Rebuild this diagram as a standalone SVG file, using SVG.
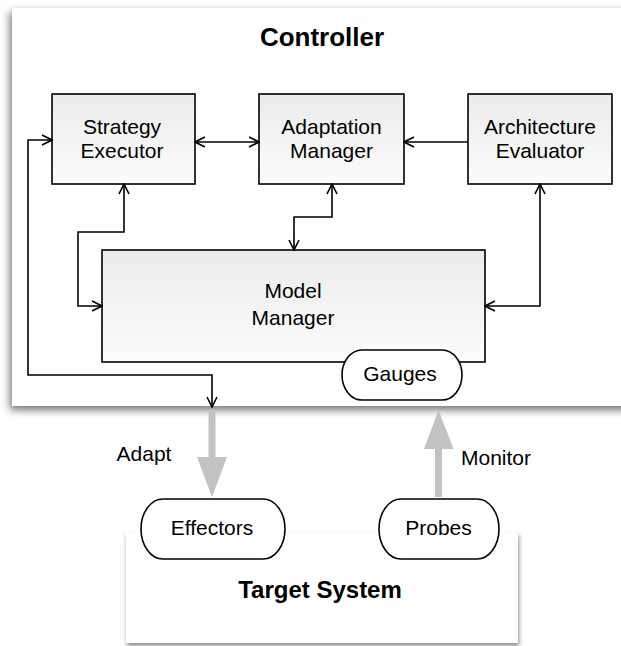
<svg xmlns="http://www.w3.org/2000/svg" width="621" height="646" viewBox="0 0 621 646">
<style>
text{font-family:"Liberation Sans",Arial,sans-serif;fill:#000;text-anchor:middle}
.lbl{font-size:21px}
.title{font-size:26px;font-weight:bold}
.box{fill:url(#g);stroke:#000;stroke-width:1.6}
.pill{fill:#fff;stroke:#000;stroke-width:1.6}
.con{fill:none;stroke:#000;stroke-width:1.6}
.ga{fill:#c2c2c2;stroke:none}
</style>
<defs>
<linearGradient id="g" x1="0" y1="0" x2="0" y2="1">
<stop offset="0" stop-color="#ebebeb"/>
<stop offset="1" stop-color="#fcfcfc"/>
</linearGradient>
<filter id="sh" x="-10%" y="-10%" width="130%" height="130%">
<feDropShadow dx="-2" dy="4" stdDeviation="4" flood-color="#000" flood-opacity="0.55"/>
</filter>
<filter id="sh2" x="-10%" y="-10%" width="130%" height="130%">
<feDropShadow dx="1" dy="3" stdDeviation="2" flood-color="#000" flood-opacity="0.45"/>
</filter>
<marker id="a" viewBox="0 0 12 12" refX="11" refY="6" markerWidth="12" markerHeight="12" markerUnits="userSpaceOnUse" orient="auto-start-reverse">
<path d="M1,1 L11,6 L1,11" fill="none" stroke="#000" stroke-width="1.6"/>
</marker>
</defs>
<rect width="621" height="646" fill="#fff"/>
<g id="controller">
<rect x="12" y="8" width="630" height="398" fill="#fff" filter="url(#sh)"/>
<text class="title" x="322" y="46">Controller</text>
</g>
<g id="target">
<rect x="126" y="532" width="392" height="111" fill="#fff" filter="url(#sh2)"/>
<text class="title" x="320" y="598" style="font-size:24px">Target System</text>
</g>
<g id="strategy">
<rect class="box" x="52" y="94" width="143" height="90"/>
<text class="lbl" x="122" y="134">Strategy</text>
<text class="lbl" x="122" y="158">Executor</text>
</g>
<g id="adaptation">
<rect class="box" x="259" y="94" width="145" height="90"/>
<text class="lbl" x="331.5" y="134">Adaptation</text>
<text class="lbl" x="331.5" y="158">Manager</text>
</g>
<g id="architecture">
<rect class="box" x="468" y="94" width="144" height="90"/>
<text class="lbl" x="540" y="134">Architecture</text>
<text class="lbl" x="540" y="158">Evaluator</text>
</g>
<g id="model">
<rect class="box" x="102" y="250" width="383" height="112"/>
<text class="lbl" x="293" y="298">Model</text>
<text class="lbl" x="293" y="325">Manager</text>
</g>
<g id="gauges">
<rect class="pill" x="342" y="350" width="120" height="50" rx="20" ry="25"/>
<text class="lbl" x="400" y="381">Gauges</text>
</g>
<g id="connectors">
<line class="con" x1="195" y1="142" x2="259" y2="142" marker-start="url(#a)" marker-end="url(#a)"/>
<line class="con" x1="468" y1="142" x2="404" y2="142" marker-end="url(#a)"/>
<polyline class="con" points="124,184 124,232 78,232 78,306 102,306" marker-start="url(#a)" marker-end="url(#a)"/>
<polyline class="con" points="332,184 332,217 294,217 294,250" marker-start="url(#a)" marker-end="url(#a)"/>
<polyline class="con" points="540,184 540,306 485,306" marker-start="url(#a)" marker-end="url(#a)"/>
<polyline class="con" points="52,140 28,140 28,375 212,375 212,407" marker-start="url(#a)" marker-end="url(#a)"/>
<path class="ga" d="M208.5,410 H215.5 V457 H227 L212,497 L197,457 H208.5 Z"/>
<path class="ga" d="M435,497 H442 V449 H453.5 L438.5,410 L424,449 H435 Z"/>
<text class="lbl" x="144" y="461">Adapt</text>
<text class="lbl" x="496" y="465">Monitor</text>
</g>
<g id="effectors">
<rect class="pill" x="141" y="499" width="144" height="60" rx="22" ry="30"/>
<text class="lbl" x="212" y="535">Effectors</text>
</g>
<g id="probes">
<rect class="pill" x="379" y="499" width="120" height="60" rx="22" ry="30"/>
<text class="lbl" x="438.5" y="535">Probes</text>
</g>
</svg>
